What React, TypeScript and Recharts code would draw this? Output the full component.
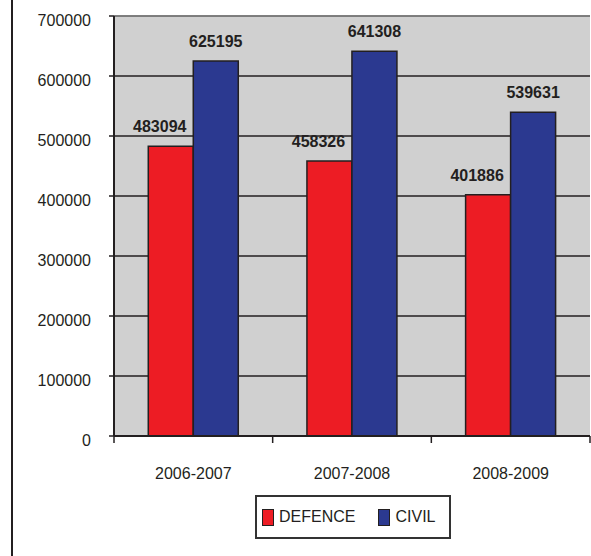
import { BarChart, Bar, XAxis, YAxis, CartesianGrid, LabelList, Legend, ReferenceLine } from "recharts";

const years = ["2006-2007", "2007-2008", "2008-2009"];
const defence = [483094, 458326, 401886];
const civil = [625195, 641308, 539631];
const yTicks = [0, 100000, 200000, 300000, 400000, 500000, 600000, 700000];

const series = [
  { key: "defence", name: "DEFENCE", color: "#ed1c24", dx: -11 },
  { key: "civil", name: "CIVIL", color: "#2b3990", dx: 0 },
];

const data = years.map((y, i) => ({ year: y, defence: defence[i], civil: civil[i] }));

const ink = "#231f20";
const font = "'Liberation Sans', Arial, sans-serif";

// category label plus tick marks on the band edges
const YearTick = (props: any) => {
  const { x, y, payload, index, visibleTicksCount } = props;
  const half = payload?.offset ?? 0;
  return (
    <g>
      <line x1={x - half} x2={x - half} y1={y} y2={y + 7} stroke={ink} strokeWidth={1.5} />
      {index === visibleTicksCount - 1 && (
        <line x1={x + half} x2={x + half} y1={y} y2={y + 7} stroke={ink} strokeWidth={1.5} />
      )}
      <text x={x} y={y + 32} dy="0.71em" textAnchor="middle" fill={ink} fontSize={16}>
        {payload.value}
      </text>
    </g>
  );
};

const LegendBox = () => (
  <div
    style={{
      marginLeft: 255, width: 196, height: 44, boxSizing: "border-box", border: "2px solid #333",
      display: "flex", alignItems: "center", paddingLeft: 5, fontFamily: font, fontSize: 16, color: ink,
    }}
  >
    {series.map((s, i) => (
      <div key={s.key} style={{ display: "flex", alignItems: "center", marginLeft: i ? 23 : 0 }}>
        <span style={{ width: 12, height: 17, boxSizing: "border-box", border: `1.5px solid ${ink}`, background: s.color, marginRight: 5 }} />
        <span>{s.name}</span>
      </div>
    ))}
  </div>
);

export default function App() {
  return (
    <div style={{ position: "absolute", left: 0, top: 0, width: 591, height: 556, background: "#fff" }}>
      <div style={{ position: "absolute", left: 11, top: 0, width: 2, height: 556, background: ink }} />
      <BarChart width={591} height={556} data={data} margin={{ top: 16, right: 1, left: 0, bottom: 17 }}
        barCategoryGap="21.6%" barGap={0} style={{ fontFamily: font }}>
        <CartesianGrid vertical={false} stroke={ink} strokeWidth={1.5} fill="#d0d0d0" fillOpacity={1} />
        <XAxis dataKey="year" height={59} tickLine={false} tickSize={0} tickMargin={0}
          axisLine={{ stroke: ink, strokeWidth: 2 }} tick={<YearTick />} />
        <YAxis width={114} domain={[0, 700000]} ticks={yTicks} interval={0} tickSize={5} tickMargin={18}
          axisLine={{ stroke: ink, strokeWidth: 2 }} tickLine={{ stroke: ink, strokeWidth: 1.5 }}
          tick={{ fill: ink, fontSize: 16, dy: 4 }} />
        <YAxis yAxisId="r" orientation="right" width={0} domain={[0, 700000]} tick={false} tickLine={false}
          axisLine={{ stroke: "#8c8c8c", strokeWidth: 1.5 }} />
        <ReferenceLine y={700000} stroke="#8c8c8c" strokeWidth={1.5} ifOverflow="extendDomain" />
        <Legend verticalAlign="bottom" content={<LegendBox />} />
        {series.map((s) => (
          <Bar key={s.key} dataKey={s.key} name={s.name} fill={s.color} stroke={ink} strokeWidth={1.5} isAnimationActive={false}>
            <LabelList dataKey={s.key} position="top" offset={14} dx={s.dx} fill={ink} fontSize={16} fontWeight="bold" />
          </Bar>
        ))}
      </BarChart>
    </div>
  );
}
